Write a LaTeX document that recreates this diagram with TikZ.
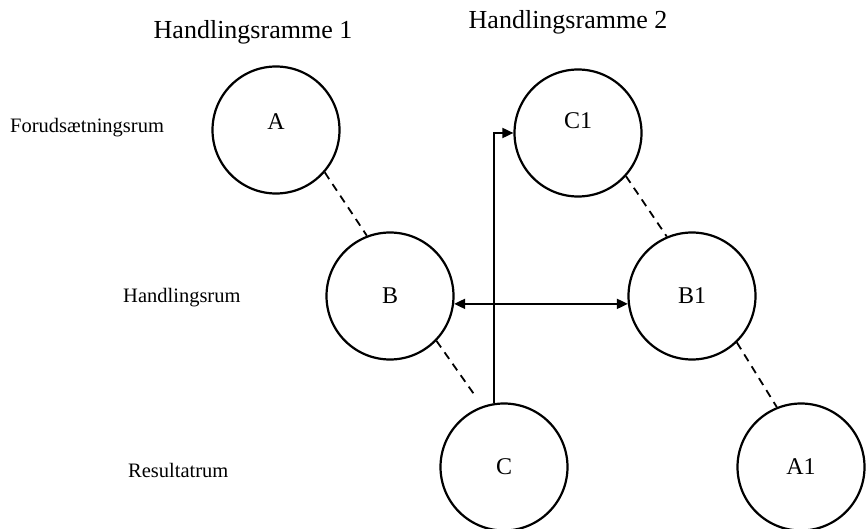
\documentclass[tikz,border=0pt]{standalone}
\usepackage{fontspec}
\setmainfont{Liberation Serif}
\usetikzlibrary{arrows.meta,calc}
\begin{document}
\begin{tikzpicture}[x=1pt,y=-1pt,
  state/.style={circle,draw,line width=2.2pt,minimum size=127pt,inner sep=0pt,font=\fontsize{24}{28}\selectfont},
  titletext/.style={font=\fontsize{26}{30}\selectfont},
  rowlabel/.style={anchor=west,inner sep=0pt,font=\fontsize{20.5}{24}\selectfont},
  link/.style={line width=1.8pt,dash pattern=on 8pt off 6pt},
  arr/.style={line width=1.8pt,-{Triangle[length=11pt,width=10pt]}},
  darr/.style={line width=1.8pt,{Triangle[length=11pt,width=10pt]}-{Triangle[length=11pt,width=10pt]}}]
\useasboundingbox (0,0) rectangle (866,529);
\node[titletext] (t1) at (253,32) {Handlingsramme 1};
\node[titletext] (t2) at (568,22) {Handlingsramme 2};
\node[rowlabel] (r1) at (10,128) {Forudsætningsrum};
\node[rowlabel] (r2) at (123,298) {Handlingsrum};
\node[rowlabel] (r3) at (128,470) {Resultatrum};
\node[state] (A) at (276,130) {\raisebox{16pt}{A}};
\node[state] (B) at (390,296) {B};
\node[state] (C) at (504,467) {C};
\node[state] (C1) at (578,133) {\raisebox{24pt}{C1}};
\node[state] (B1) at (692,296) {B1};
\node[state] (A1) at (801,467) {A1};
\draw[link] (A.-41) -- (B.111);
\draw[link] (B.-44) -- ($(C)+(-28,-70)$);
\draw[link] (C1.-42) -- (B1.113);
\draw[link] (B1.-46) -- (A1.112);
\draw[arr] (C.99) |- (C1.west);
\draw[darr] (B.-7) -- (B1.-173);
\end{tikzpicture}
\end{document}
